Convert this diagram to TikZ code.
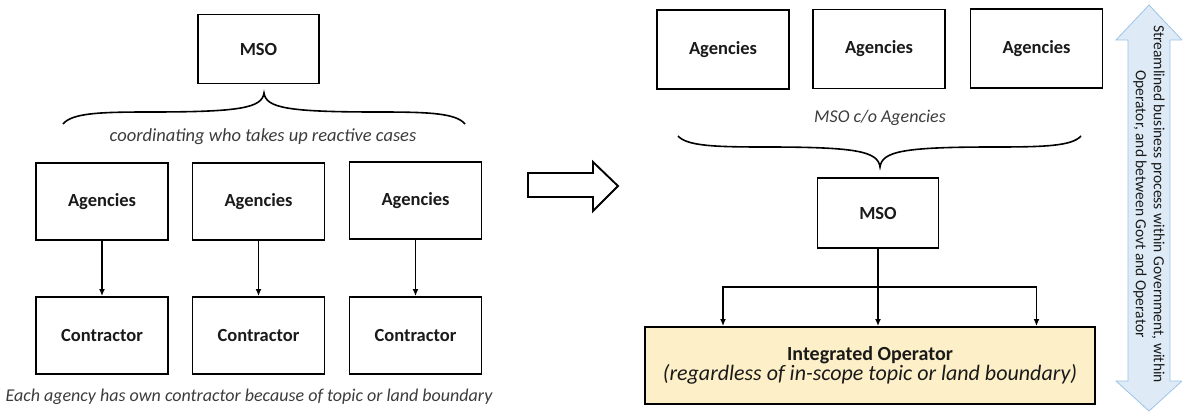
\documentclass[tikz,border=0pt]{standalone}
\usepackage{fontspec}
\setmainfont{Carlito}
\usetikzlibrary{arrows.meta}
\definecolor{opfill}{HTML}{FDF0C8}
\definecolor{bluefill}{HTML}{DEEBF7}
\definecolor{blueline}{HTML}{9DC3E6}
\definecolor{txt}{HTML}{1A1A1A}
\begin{document}
\begin{tikzpicture}[x=1pt,y=-1pt,
  blk/.style={draw, line width=1.9pt, minimum width=132pt, minimum height=77pt, inner sep=0pt,
    font=\fontsize{18.5}{20}\selectfont\bfseries, text=txt},
  msobox/.style={blk, minimum width=121pt, minimum height=69pt},
  note/.style={font=\fontsize{18}{21}\selectfont\itshape, text=txt!85, inner sep=0pt},
  arr/.style={line width=1.8pt, -{Latex[length=7pt,width=6pt]}},
  brace/.style={line width=1.6pt}
]
\useasboundingbox (0,0) rectangle (1182,412);

% ---------- left side ----------
\node[msobox] (mso1) at (258.5,49) {MSO};
\draw[brace] (63,124) .. controls (72,113) and (100,112) .. (150,112)
  .. controls (240,112) and (262,108) .. (264,93)
  .. controls (266,108) and (288,112) .. (378,112)
  .. controls (428,112) and (456,113) .. (465,124);
\node[note, font=\fontsize{18.5}{21}\selectfont\itshape] (coord) at (263,137) {coordinating who takes up reactive cases};

\node[blk] (ag1) at (102,201.5) {Agencies};
\node[blk] (ag2) at (258.5,201.5) {Agencies};
\node[blk] (ag3) at (415.5,200.5) {Agencies};
\node[blk] (co1) at (102,335.5) {Contractor};
\node[blk] (co2) at (258.5,335.5) {Contractor};
\node[blk] (co3) at (415.5,335.5) {Contractor};
\draw[arr] (ag1.south) -- (co1.north);
\draw[arr] (ag2.south) -- (co2.north);
\draw[arr] (ag3.south) -- (co3.north);
\node[note] (each) at (249,397) {Each agency has own contractor because of topic or land boundary};

% ---------- transition arrow ----------
\draw[line width=1.9pt, line join=miter, fill=white]
  (528,173) -- (593,173) -- (593,162) -- (618,186) -- (593,211) -- (593,197) -- (528,197) -- cycle;

% ---------- right side ----------
\node[blk, minimum height=79pt] (ag4) at (723,49.5) {Agencies};
\node[blk, minimum height=79pt] (ag5) at (879,49) {Agencies};
\node[blk, minimum height=79pt] (ag6) at (1036.5,48.5) {Agencies};
\node[note] (co) at (880,118) {MSO c/o Agencies};
\draw[brace] (678,136) .. controls (687,146) and (715,147) .. (765,147)
  .. controls (855,147) and (878,151) .. (880,167)
  .. controls (882,151) and (905,147) .. (995,147)
  .. controls (1045,147) and (1072,146) .. (1081,136);

\node[msobox, minimum height=70pt] (mso2) at (878,213) {MSO};
\node[draw, line width=1.9pt, fill=opfill, minimum width=450pt, minimum height=77pt,
  inner sep=0pt, align=center, text=txt] (op) at (870,365.5)
  {{\fontsize{20}{26}\selectfont\bfseries Integrated Operator}\\[0pt]
   {\fontsize{22}{26}\selectfont\itshape (regardless of in-scope topic or land boundary)}};

\coordinate (j) at (mso2.south |- 0,287);
\draw[line width=1.8pt] (mso2.south) -- (j);
\draw[arr] (j) -- (mso2.south |- op.north);
\draw[arr] (j) -| (op.north -| ag4.south);
\draw[arr] (j) -| (op.north -| ag6.south);

% ---------- blue double arrow ----------
\draw[blueline, fill=bluefill, line width=0.8pt, line join=miter]
  (1149,5) -- (1182,40) -- (1170,40) -- (1170,381) -- (1182,381) -- (1149,411)
  -- (1116,381) -- (1128,381) -- (1128,40) -- (1116,40) -- cycle;
\node[rotate=-90, align=center, font=\fontsize{15.5}{18}\selectfont, text=txt, inner sep=0pt]
  (stream) at (1149,204)
  {Streamlined business process within Government, within\\Operator, and between Govt and Operator};
\end{tikzpicture}
\end{document}
